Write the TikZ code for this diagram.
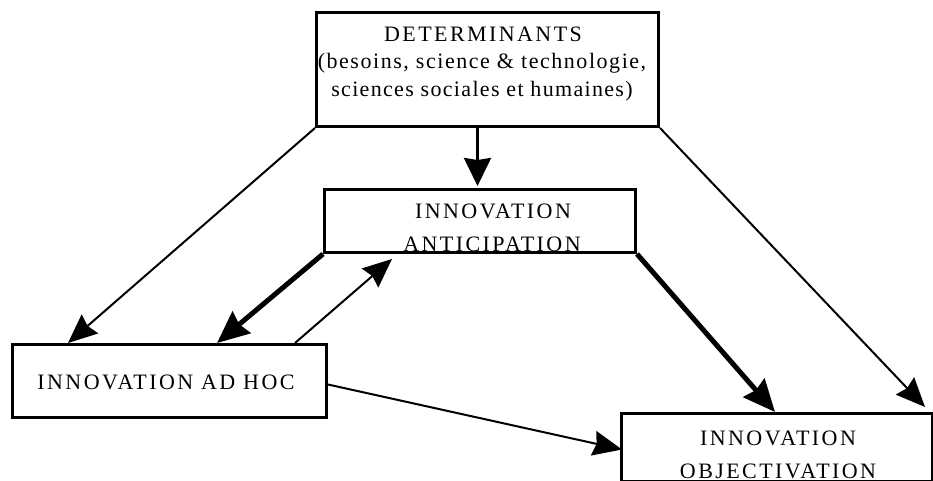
\documentclass[tikz,border=0pt]{standalone}
\usepackage{fontspec}
\setmainfont{Liberation Serif}
\newfontfamily\capsfont[LetterSpace=11]{Liberation Serif}
\newfontfamily\lowfont[LetterSpace=7]{Liberation Serif}
\newfontfamily\lowfontb[LetterSpace=6]{Liberation Serif}
\usetikzlibrary{arrows.meta}
\begin{document}
\begin{tikzpicture}[x=1pt,y=-1pt,
  box/.style={draw, line width=3pt, rectangle, inner sep=0pt, anchor=north west},
  capt/.style={anchor=base, inner sep=0pt, font=\capsfont\fontsize{22}{24}\selectfont},
  lowt/.style={anchor=base, inner sep=0pt, font=\lowfont\fontsize{22}{24}\selectfont},
  lowtb/.style={anchor=base, inner sep=0pt, font=\lowfontb\fontsize{22}{24}\selectfont},
  thinarr/.style={line width=2pt, -{Stealth[length=29pt,width=25pt,inset=3pt]}},
  thickarr/.style={line width=5pt, -{Stealth[length=32pt,width=28pt,inset=3pt]}},
  midarr/.style={line width=3pt, -{Stealth[length=28pt,width=27pt,inset=2pt]}}]
\useasboundingbox (0,0) rectangle (933,481);
% boxes
\node[box, minimum width=342pt, minimum height=114pt] (det) at (315,11) {};
\node[box, minimum width=311pt, minimum height=63pt] (antic) at (323,188) {};
\node[box, minimum width=314pt, minimum height=73pt] (adhoc) at (11,343) {};
\node[box, minimum width=311pt, minimum height=68pt] (obj) at (620,412) {};
% texts
\node[capt] (t1) at (483,42) {DETERMINANTS};
\node[lowt] (t2) at (482,69) {(besoins, science \& technologie,};
\node[lowtb] (t3) at (482,97) {sciences sociales et humaines)};
\node[capt] (t4) at (493,218) {INNOVATION};
\node[capt] (t5) at (492,251) {ANTICIPATION};
\node[capt] (t6) at (166,389) {INNOVATION AD HOC};
\node[capt] (t7) at (778,445) {INNOVATION};
\node[capt] (t8) at (778,478) {OBJECTIVATION};
% connectors
\draw[midarr] ([xshift=-10pt]det.south) -- ([xshift=-2.5pt,yshift=2pt]antic.north);
\draw[thinarr] (det.south west) -- ([xshift=57pt]adhoc.north west);
\draw[thickarr] (antic.south west) -- ([xshift=206pt]adhoc.north west);
\draw[thinarr] ([xshift=284pt]adhoc.north west) -- ([xshift=69pt,yshift=-5pt]antic.south west);
\draw[thickarr] (antic.south east) -- ([xshift=155pt]obj.north west);
\draw[thinarr] (det.south east) -- ([xshift=-9pt,yshift=5pt]obj.north east);
\draw[thinarr] ([yshift=-3.5pt]adhoc.east) -- ([xshift=2pt,yshift=-2pt]obj.west);
\end{tikzpicture}
\end{document}
